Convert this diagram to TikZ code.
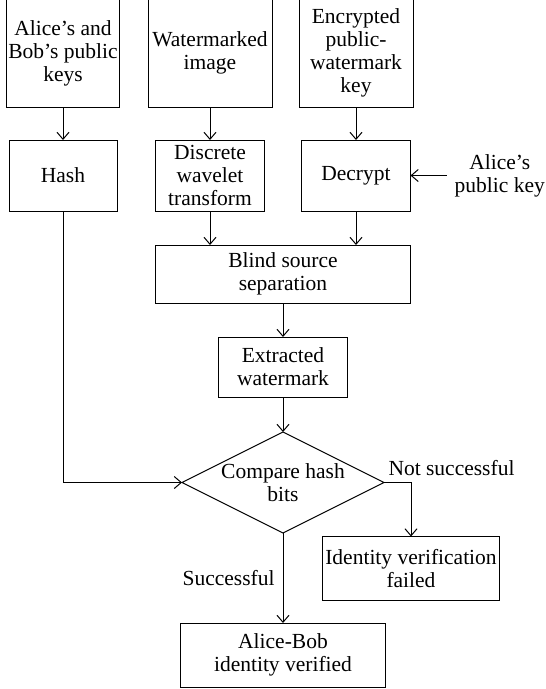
\documentclass[tikz,border=0pt]{standalone}
\usepackage{fontspec}
\setmainfont{Liberation Serif}
\usetikzlibrary{arrows.meta,positioning,shapes.geometric,calc}

\begin{document}
\begin{tikzpicture}[
  x=1pt, y=1pt,
  node distance=33pt,
  block/.style={rectangle, draw, line width=1pt, outer sep=0pt, align=center, inner xsep=2pt, inner ysep=1pt, font=\fontsize{21.5}{23}\selectfont},
  decision/.style={diamond, draw, line width=1pt, outer sep=0pt, align=center, aspect=2, inner sep=-5pt, minimum width=202pt, minimum height=101pt, font=\fontsize{21.5}{23}\selectfont},
  lbl/.style={font=\fontsize{21.5}{23}\selectfont, align=center},
  flow/.style={-{Straight Barb[length=7pt,width=12pt]}, line width=1pt},
]
  \useasboundingbox (0,0) rectangle (546,-689);

  % inputs
  \node[block, anchor=north, minimum width=108pt, minimum height=108pt] (pubkeys) at (63,1) {Alice's and\\Bob's public\\keys};
  \node[block, anchor=north, minimum width=124pt, minimum height=108pt] (wmimage) at (210,1) {Watermarked\\image};
  \node[block, anchor=north, minimum width=114pt, minimum height=108pt] (enckey) at (356,1) {Encrypted\\public-\\watermark\\key};

  % processing
  \node[block, below=33pt of pubkeys, minimum width=108pt, minimum height=71pt] (hash) {Hash};
  \node[block, below=33pt of wmimage, minimum width=109pt, minimum height=71pt] (dwt) {Discrete\\wavelet\\transform};
  \node[block, below=33pt of enckey, minimum width=109pt, minimum height=71pt] (decrypt) {Decrypt};
  \node[lbl, right=36pt of decrypt, inner xsep=8pt] (akey) {Alice's\\public key};

  \coordinate (midrow) at ($(dwt.south)!0.5!(decrypt.south)$);
  \node[block, below=34pt of midrow, minimum width=255pt, minimum height=58pt] (bss) {Blind source\\separation};
  \node[block, below=34pt of bss, minimum width=129pt, minimum height=60pt] (extracted) {Extracted\\watermark};
  \node[decision, below=35pt of extracted] (compare) {Compare hash\\bits};

  % outcomes
  \node[block, below=4pt of compare.east, anchor=north, xshift=27pt, minimum width=177pt, minimum height=64pt, yshift=-50pt] (failed) {Identity verification\\failed};
  \node[block, below=90pt of compare, minimum width=205pt, minimum height=64pt] (success) {Alice-Bob\\identity verified};

  \draw[flow] (pubkeys) -- (hash);
  \draw[flow] (wmimage) -- (dwt);
  \draw[flow] (enckey) -- (decrypt);
  \draw[flow] (akey.west) -- (decrypt.east);
  \draw[flow] (dwt.south) -- (dwt.south |- bss.north);
  \draw[flow] (decrypt.south) -- (decrypt.south |- bss.north);
  \draw[flow] (bss) -- (extracted);
  \draw[flow] (extracted) -- (compare);
  \draw[flow] (hash.south) |- (compare.west);
  \draw[flow] (compare.east) -| node[lbl, pos=0, anchor=south west, inner sep=4pt, yshift=2pt] {Not successful} (failed.north);
  \draw[flow] (compare.south) -- node[lbl, left, inner sep=8pt] {Successful} (success.north);
\end{tikzpicture}
\end{document}
